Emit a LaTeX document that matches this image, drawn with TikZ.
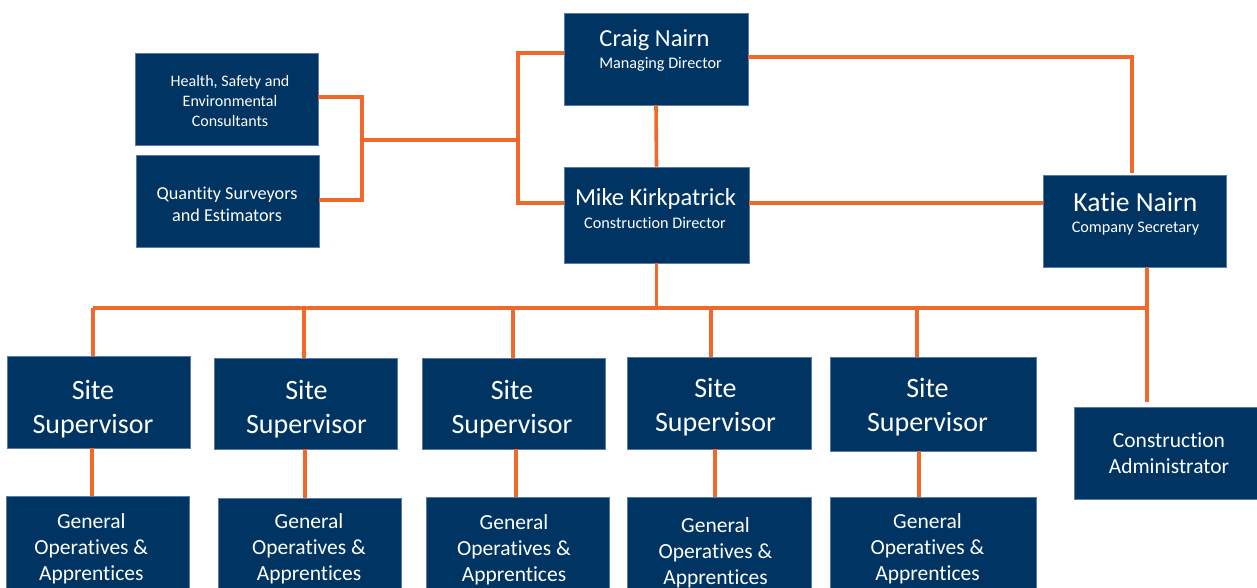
\documentclass[tikz,border=0pt]{standalone}
\usepackage{fontspec}
\setmainfont{Carlito}[Ligatures=NoCommon]
\usetikzlibrary{calc}
\definecolor{navy}{HTML}{003462}
\definecolor{edgeblue}{HTML}{5A7BAA}
\definecolor{orgline}{HTML}{F0692A}
\tikzset{
  box/.style={draw=edgeblue, line width=0.8pt, fill=navy, minimum width=183pt, minimum height=92pt, inner sep=0pt},
  wire/.style={draw=orgline, line width=3.6pt},
  txt/.style={text=white, align=center, inner sep=0pt, anchor=base},
  nameA/.style={txt, font=\fontsize{24.5}{29}\selectfont},
  roleA/.style={txt, font=\fontsize{16.2}{19}\selectfont},
  sstxt/.style={txt, font=\fontsize{28}{33.5}\selectfont},
  goatxt/.style={txt, font=\fontsize{21.5}{26}\selectfont},
}
\begin{document}
\begin{tikzpicture}[x=1pt, y=-1pt]
\useasboundingbox (0,0) rectangle (1257,587);

% boxes
\node[box] (hse) at (226.5,99.5) {};
\node[box] (qs) at (227.5,201.5) {};
\node[box, minimum width=184pt] (craig) at (656,59) {};
\node[box, minimum width=185pt, minimum height=96pt] (mike) at (656.5,215) {};
\node[box] (katie) at (1134.5,221) {};
\node[box, minimum width=186pt] (admin) at (1167,453) {};
\node[box] (ss1) at (98.5,402) {};
\node[box, minimum height=91pt] (ss2) at (305.5,403.5) {};
\node[box, minimum height=91pt] (ss3) at (513.5,403.5) {};
\node[box, minimum width=184pt] (ss4) at (719,403) {};
\node[box, minimum width=206pt, minimum height=94pt] (ss5) at (933,404) {};
\node[box, minimum height=100pt] (goa1) at (97.5,546) {};
\node[box, minimum height=100pt] (goa2) at (309.5,548) {};
\node[box, minimum height=100pt] (goa3) at (517.5,547) {};
\node[box, minimum width=184pt, minimum height=100pt] (goa4) at (719,547) {};
\node[box, minimum width=206pt, minimum height=100pt] (goa5) at (933,547) {};

% texts (anchor=base is the baseline of the last line)
\node[nameA] (craigname) at (654.5,46.7) {Craig Nairn};
\node[roleA] (craigrole) at (660.5,68.3) {Managing Director};
\node[nameA] (mikename) at (655.5,205.7) {Mike Kirkpatrick};
\node[roleA] (mikerole) at (655,228.3) {Construction Director};
\node[txt, font=\fontsize{27.6}{32}\selectfont] (katiename) at (1135.3,211) {Katie Nairn};
\node[roleA] (katierole) at (1135.5,232) {Company Secretary};
\node[txt, font=\fontsize{16}{20}\selectfont] (hsetxt) at (230,126) {Health, Safety and\\Environmental\\Consultants};
\node[txt, font=\fontsize{18.2}{22}\selectfont] (qstxt) at (227,221) {Quantity Surveyors\\and Estimators};
\node[txt, font=\fontsize{21.5}{26}\selectfont] (admintxt) at (1169,473) {Construction\\Administrator};
\node[sstxt] (ss1t) at (93,433) {Site\\Supervisor};
\node[sstxt] (ss2t) at (306.5,433) {Site\\Supervisor};
\node[sstxt] (ss3t) at (512,433) {Site\\Supervisor};
\node[sstxt] (ss4t) at (715.5,431) {Site\\Supervisor};
\node[sstxt] (ss5t) at (927.5,431) {Site\\Supervisor};
\node[goatxt] (goa1t) at (91.3,580) {General\\Operatives \&\\Apprentices};
\node[goatxt] (goa2t) at (309,580) {General\\Operatives \&\\Apprentices};
\node[goatxt] (goa3t) at (514,581) {General\\Operatives \&\\Apprentices};
\node[goatxt] (goa4t) at (715.5,584) {General\\Operatives \&\\Apprentices};
\node[goatxt] (goa5t) at (927.5,580) {General\\Operatives \&\\Apprentices};

% connectors
\coordinate (hq) at (362,140);
\coordinate (lb) at (518,140);
\coordinate (busL) at (93,308);
\coordinate (busR) at (1147,308);
\draw[wire] ([yshift=2.5pt]hse.east) -| (hq) |- ([yshift=1.5pt]qs.east);
\draw[wire] (hq) -- (lb);
\draw[wire] ([yshift=6pt]craig.west) -| (lb) |- ([yshift=12pt]mike.west);
\draw[wire] (craig.south) -- (mike.north);
\draw[wire] ([yshift=2pt]craig.east) -| ([xshift=-2.5pt,yshift=2pt]katie.north);
\draw[wire] ([yshift=12pt]mike.east) -- ([yshift=18pt]katie.west);
\draw[wire] (mike.south) -- (mike.south |- busL);
\draw[wire] (busL) -- (busR);
\draw[wire] ([xshift=12.5pt]katie.south) -- ([xshift=-20pt,yshift=5pt]admin.north);
\draw[wire] (busL) -- ([xshift=-5.5pt]ss1.north);
\draw[wire] ([xshift=-1.5pt]ss2.north) -- ([xshift=-1.5pt]ss2.north |- busL);
\draw[wire] ([xshift=-0.5pt]ss3.north) -- ([xshift=-0.5pt]ss3.north |- busL);
\draw[wire] ([xshift=-8pt]ss4.north) -- ([xshift=-8pt]ss4.north |- busL);
\draw[wire] ([xshift=-16pt]ss5.north) -- ([xshift=-16pt]ss5.north |- busL);
\draw[wire] ([xshift=-6.5pt]ss1.south) -- ([xshift=-6.5pt]ss1.south |- goa1.north);
\draw[wire] ([xshift=-0.5pt]ss2.south) -- ([xshift=-0.5pt]ss2.south |- goa2.north);
\draw[wire] ([xshift=2.5pt]ss3.south) -- ([xshift=2.5pt]ss3.south |- goa3.north);
\draw[wire] ([xshift=-4pt]ss4.south) -- ([xshift=-4pt]ss4.south |- goa4.north);
\draw[wire] ([xshift=-14pt]ss5.south) -- ([xshift=-14pt]ss5.south |- goa5.north);
\end{tikzpicture}
\end{document}
